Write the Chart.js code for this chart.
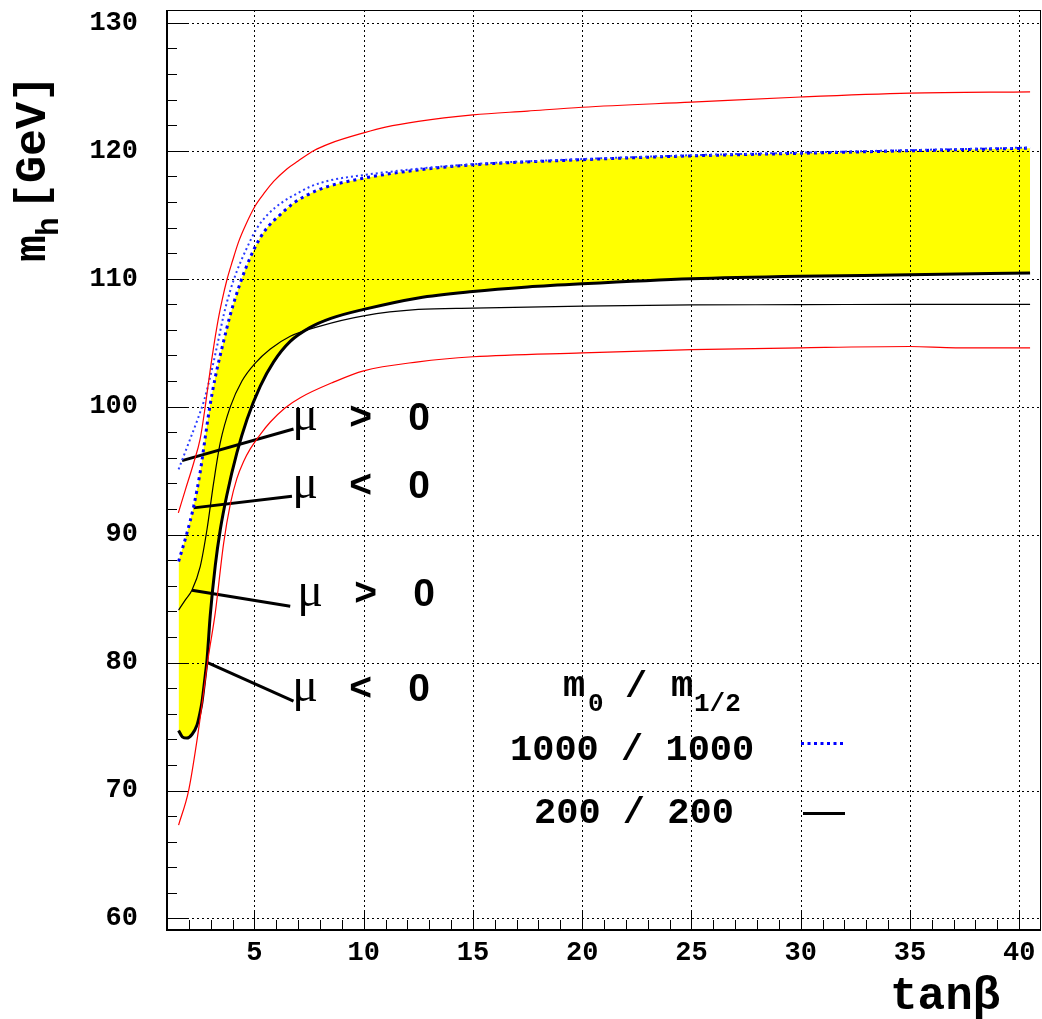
<!DOCTYPE html>
<html><head><meta charset="utf-8">
<script src="https://cdn.jsdelivr.net/npm/chart.js@4/dist/chart.umd.min.js"></script>
<style>html,body{margin:0;padding:0;background:#fff;}#wrap{width:1042px;height:1019px;}</style>
</head><body><div id="wrap"><canvas id="c" width="1042" height="1019"></canvas></div>
<script>
// ---- axis tick labels ----
const xTicks = [5, 10, 15, 20, 25, 30, 35, 40];
const yTicks = [60, 70, 80, 90, 100, 110, 120, 130];

// ---- curves: tan(beta) vs m_h [GeV] ----
// upper red band edge
const tbRedUp = [1.52, 1.84, 2.22, 2.52, 2.75, 2.98, 3.29, 3.52, 3.74, 4.0, 4.28, 4.6, 5.04, 5.5, 5.88, 6.5, 7.0, 7.71, 8.5, 10, 11, 12.5, 15, 17.5, 20, 25, 30, 35, 40.5];
const mhRedUp = [91.7, 93.5, 95.6, 97.5, 100.0, 102.9, 106.3, 108.3, 109.9, 111.4, 112.9, 114.2, 115.7, 116.8, 117.6, 118.6, 119.2, 120.0, 120.6, 121.4, 121.85, 122.3, 122.8, 123.1, 123.4, 123.8, 124.2, 124.5, 124.6];
// lower red band edge
const tbRedLo = [1.53, 1.99, 2.37, 2.67, 2.87, 3.21, 3.59, 3.9, 4.2, 4.5, 4.81, 5.3, 5.73, 6.4, 7.1, 8.6, 10, 12.5, 15, 20, 25, 30, 35, 37.1, 40.5];
const mhRedLo = [67.3, 70.0, 73.9, 77.6, 80.2, 83.9, 89.3, 92.4, 94.4, 95.7, 96.7, 97.9, 98.8, 99.9, 100.7, 101.9, 102.8, 103.5, 103.9, 104.2, 104.45, 104.6, 104.7, 104.6, 104.6];
// m0/m1/2 = 1000/1000, mu > 0 (blue dotted, thin)
const tbBlueP = [1.53, 2.0, 2.4, 2.7, 3.0, 3.3, 3.6, 3.9, 4.2, 4.6, 5.1, 5.6, 6.3, 7.0, 7.56, 8.5, 10, 12.5, 15, 20, 25, 30, 35, 40.5];
const mhBlueP = [95.1, 97.2, 99.0, 100.5, 102.5, 104.8, 107.2, 109.1, 110.6, 112.2, 113.9, 115.0, 116.0, 116.7, 117.2, 117.7, 118.1, 118.6, 118.95, 119.35, 119.65, 119.85, 120.05, 120.25];
// m0/m1/2 = 1000/1000, mu < 0 (blue dotted, thick; upper edge of yellow band)
const tbBlueN = [1.53, 1.91, 2.22, 2.52, 2.75, 2.95, 3.21, 3.59, 3.9, 4.3, 4.6, 5.04, 5.5, 6.18, 6.79, 8.01, 9.84, 12.5, 15, 20, 25, 30, 35, 40.5];
const mhBlueN = [87.9, 90.1, 92.2, 94.9, 97.6, 99.9, 102.3, 105.1, 107.2, 109.4, 110.8, 112.5, 113.8, 115.0, 115.9, 117.0, 117.8, 118.5, 118.9, 119.3, 119.6, 119.8, 120.0, 120.2];
// m0/m1/2 = 200/200, mu > 0 (thin black)
const tbBlackP = [1.53, 1.84, 2.14, 2.52, 2.83, 3.13, 3.44, 3.9, 4.43, 5.04, 5.73, 6.64, 8.01, 10, 12.5, 15, 20, 25, 30, 35, 40.5];
const mhBlackP = [84.1, 84.9, 85.65, 87.5, 90.4, 94.0, 97.2, 100.0, 102.0, 103.4, 104.5, 105.5, 106.3, 107.1, 107.6, 107.7, 107.85, 107.95, 107.97, 108.0, 108.0];
// m0/m1/2 = 200/200, mu < 0 (thick black; lower edge of yellow band)
const tbBlackN = [1.53, 1.7, 1.91, 2.15, 2.37, 2.5, 2.6, 2.75, 2.83, 2.98, 3.21, 3.44, 3.74, 4.2, 4.66, 5.27, 5.88, 6.64, 7.56, 8.5, 10, 12.5, 15, 17.5, 20, 25, 30, 35, 40.5];
const mhBlackN = [74.7, 74.2, 74.1, 74.4, 75.1, 76.0, 76.9, 79.0, 80.2, 83.7, 87.6, 90.4, 93.1, 96.4, 99.0, 101.6, 103.5, 105.1, 106.2, 106.9, 107.6, 108.5, 109.0, 109.35, 109.6, 110.0, 110.2, 110.3, 110.45];

// ---- annotation pointers (tan(beta), m_h) ----
const ptrTb = [[1.69, 6.79], [2.22, 6.72], [2.14, 6.64], [2.83, 6.79]];
const ptrMh = [[95.78, 98.25], [92.09, 93.0], [85.65, 84.4], [80.02, 76.98]];
const muSign = ['>', '<', '>', '<'];
const muLabelTb = [6.73, 6.73, 6.96, 6.73];
const muLabelMh = [98.2, 92.9, 84.4, 77.0];

// ---- legend texts ----
const legendRows = ['1000 / 1000', '200 / 200'];

const pts = (xs, ys) => xs.map((x, i) => ({x: x, y: ys[i]}));
const MONO = '"Liberation Mono", "DejaVu Sans Mono", monospace';

const datasets = [
  {data: pts(tbBlueN, mhBlueN), borderWidth: 0, borderColor: 'rgba(0,0,0,0)', backgroundColor: '#ffff00', fill: 6, order: 10, cubicInterpolationMode: 'monotone'},
  {data: pts(tbRedUp, mhRedUp), borderColor: '#ff0000', borderWidth: 1.2, fill: false, cubicInterpolationMode: 'monotone'},
  {data: pts(tbRedLo, mhRedLo), borderColor: '#ff0000', borderWidth: 1.2, fill: false, cubicInterpolationMode: 'monotone'},
  {data: pts(tbBlueP, mhBlueP), borderColor: '#2a3cff', borderWidth: 2, borderDash: [2, 3], fill: false, cubicInterpolationMode: 'monotone'},
  {data: pts(tbBlueN, mhBlueN), borderColor: '#0000ff', borderWidth: 3, borderDash: [3, 4], fill: false, cubicInterpolationMode: 'monotone'},
  {data: pts(tbBlackP, mhBlackP), borderColor: '#000', borderWidth: 1.2, fill: false, cubicInterpolationMode: 'monotone'},
  {data: pts(tbBlackN, mhBlackN), borderColor: '#000', borderWidth: 3, fill: false, cubicInterpolationMode: 'monotone'}
];
ptrTb.forEach((xs, i) => datasets.push({data: pts(xs, ptrMh[i]), borderColor: '#000', borderWidth: 3, fill: false, tension: 0}));

const overlay = {
  id: 'overlay',
  afterDatasetDraw(chart, args) {
    if (args.index !== 0) return;
    const {ctx, chartArea: a, scales: {x, y}} = chart;
    ctx.save();
    ctx.strokeStyle = '#000'; ctx.lineWidth = 1; ctx.setLineDash([2, 3]);
    xTicks.forEach(v => {
      const p = Math.round(x.getPixelForValue(v)) + 0.5;
      ctx.beginPath(); ctx.moveTo(p, a.top); ctx.lineTo(p, a.bottom); ctx.stroke();
    });
    yTicks.forEach(v => {
      const p = Math.round(y.getPixelForValue(v)) + 0.5;
      ctx.beginPath(); ctx.moveTo(a.left, p); ctx.lineTo(a.right, p); ctx.stroke();
    });
    ctx.restore();
  },
  afterDraw(chart) {
    const {ctx, chartArea: a, scales: {x, y}} = chart;
    ctx.save();
    // frame
    ctx.strokeStyle = '#000'; ctx.setLineDash([]);
    ctx.lineWidth = 1;
    ctx.beginPath(); ctx.moveTo(a.left, a.top + 0.5); ctx.lineTo(a.right, a.top + 0.5); ctx.stroke();
    ctx.beginPath(); ctx.moveTo(a.right - 0.5, a.top); ctx.lineTo(a.right - 0.5, a.bottom); ctx.stroke();
    ctx.lineWidth = 2;
    ctx.beginPath(); ctx.moveTo(a.left, a.top); ctx.lineTo(a.left, a.bottom + 1); ctx.stroke();
    ctx.beginPath(); ctx.moveTo(a.left - 1, a.bottom); ctx.lineTo(a.right, a.bottom); ctx.stroke();
    // tick marks (inside the frame)
    ctx.lineWidth = 1;
    for (let v = 2; v <= 40; v++) {
      const p = Math.round(x.getPixelForValue(v)) + 0.5;
      const len = v % 5 === 0 ? 20 : 10;
      ctx.beginPath(); ctx.moveTo(p, a.bottom); ctx.lineTo(p, a.bottom - len); ctx.stroke();
    }
    for (let v = 60; v <= 130; v += 2) {
      const p = Math.round(y.getPixelForValue(v)) + 0.5;
      const len = v % 10 === 0 ? 20 : 10;
      ctx.beginPath(); ctx.moveTo(a.left, p); ctx.lineTo(a.left + len, p); ctx.stroke();
    }
    // axis titles
    ctx.fillStyle = '#000';
    ctx.textBaseline = 'alphabetic'; ctx.textAlign = 'left';
    ctx.save();
    ctx.translate(45, 262); ctx.rotate(-Math.PI / 2);
    ctx.font = 'bold 45px ' + MONO; ctx.fillText('m', 0, 0);
    ctx.font = 'bold 31px ' + MONO; ctx.fillText('h', 26, 13);
    ctx.font = 'bold 45px ' + MONO; ctx.fillText('[GeV]', 52, 0);
    ctx.restore();
    ctx.font = 'bold 46px ' + MONO; ctx.fillText('tan\u03b2', 890, 1009);
    // mu labels
    muSign.forEach((s, i) => {
      const px = x.getPixelForValue(muLabelTb[i]);
      const py = y.getPixelForValue(muLabelMh[i]);
      ctx.font = '48px "Liberation Serif", "DejaVu Serif", serif';
      ctx.fillText('\u03bc', px, py);
      ctx.font = 'bold 39px "Liberation Sans", Arial, sans-serif';
      ctx.fillText(s, px + 57, py - 1);
      ctx.fillText('0', px + 116, py);
    });
    // legend
    ctx.font = 'bold 37px ' + MONO;
    ctx.fillText('m', 563, 696);
    ctx.fillText('/', 625, 697);
    ctx.fillText('m', 671, 696);
    ctx.font = 'bold 26px ' + MONO;
    ctx.fillText('0', 588, 711);
    ctx.fillText('1/2', 694, 711);
    ctx.font = 'bold 37px ' + MONO;
    ctx.fillText(legendRows[0], 510, 760);
    ctx.fillText(legendRows[1], 534, 823);
    ctx.lineWidth = 3;
    ctx.strokeStyle = '#0000ff'; ctx.setLineDash([3, 3.5]);
    ctx.beginPath(); ctx.moveTo(801, 743.5); ctx.lineTo(846, 743.5); ctx.stroke();
    ctx.strokeStyle = '#000'; ctx.setLineDash([]);
    ctx.beginPath(); ctx.moveTo(803, 813.5); ctx.lineTo(845, 813.5); ctx.stroke();
    ctx.restore();
  }
};

new Chart(document.getElementById('c'), {
  type: 'line',
  data: {datasets: datasets},
  plugins: [overlay],
  options: {
    responsive: false,
    devicePixelRatio: 1,
    animation: false,
    layout: {padding: {top: 10, right: 1, left: 0, bottom: 0}},
    elements: {point: {radius: 0, hoverRadius: 0}},
    plugins: {legend: {display: false}, tooltip: {enabled: false}, filler: {propagate: false}},
    scales: {
      x: {
        type: 'linear', min: 1, max: 41,
        afterBuildTicks: s => { s.ticks = xTicks.map(v => ({value: v})); },
        afterFit: s => { s.height = 89; s.paddingLeft = 0; s.paddingRight = 0; },
        grid: {display: false, drawTicks: false},
        border: {display: false},
        ticks: {color: '#000', padding: 7, maxRotation: 0, autoSkip: false, font: {family: MONO, size: 27, weight: 'bold'}}
      },
      y: {
        type: 'linear', min: 59.1, max: 131,
        afterBuildTicks: s => { s.ticks = yTicks.map(v => ({value: v})); },
        afterFit: s => { s.width = 167; s.paddingTop = 0; s.paddingBottom = 0; },
        grid: {display: false, drawTicks: false},
        border: {display: false},
        ticks: {color: '#000', padding: 29, font: {family: MONO, size: 27, weight: 'bold'}}
      }
    }
  }
});
</script>
</body></html>
